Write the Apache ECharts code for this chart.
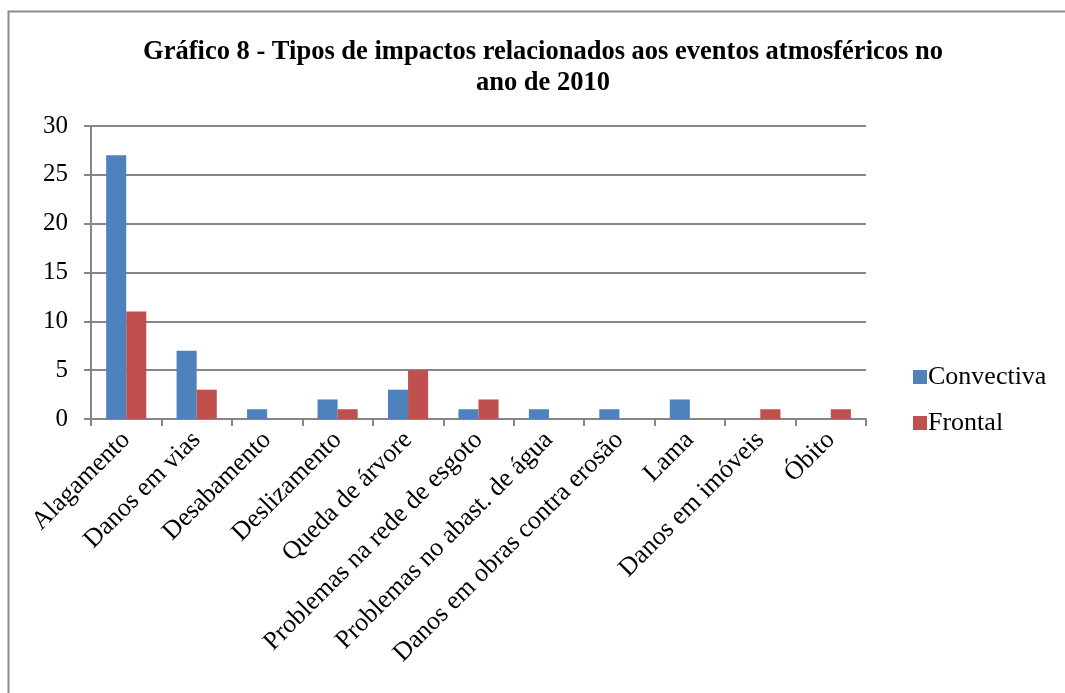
<!DOCTYPE html>
<html>
<head>
<meta charset="utf-8">
<script src="https://cdn.jsdelivr.net/npm/echarts@6/dist/echarts.min.js"></script>
<style>
  html, body { margin: 0; padding: 0; background: #fff; }
  #chart { width: 1065px; height: 693px; }
</style>
</head>
<body>
<div id="chart"></div>
<script>
// Impact types recorded in 2010, by atmospheric system
const categories = [
  'Alagamento', 'Danos em vias', 'Desabamento', 'Deslizamento', 'Queda de árvore',
  'Problemas na rede de esgoto', 'Problemas no abast. de água',
  'Danos em obras contra erosão', 'Lama', 'Danos em imóveis', 'Óbito'
];
const convectiva = [27, 7, 1, 2, 3, 1, 1, 1, 2, 0, 0];
const frontal = [11, 3, 0, 1, 5, 2, 0, 0, 0, 1, 1];
const yTicks = [0, 5, 10, 15, 20, 25, 30];

const serif = '"Liberation Serif", "Times New Roman", serif';
const axisGray = '#868686';

const chart = echarts.init(document.getElementById('chart'), null, { renderer: 'canvas' });
chart.setOption({
  backgroundColor: '#fff',
  animation: false,
  graphic: [{
    type: 'rect',
    shape: { x: 8.5, y: 11.5, width: 1100, height: 720 },
    style: { fill: 'none', stroke: '#8c8c8c', lineWidth: 2 },
    silent: true
  }],
  title: {
    text: 'Gráfico 8 - Tipos de impactos relacionados aos eventos atmosféricos no\nano de 2010',
    left: 538,
    top: 32,
    textAlign: 'center',
    textStyle: {
      fontFamily: serif, fontSize: 26.5, fontWeight: 'bold', color: '#000', lineHeight: 31
    }
  },
  legend: {
    orient: 'vertical',
    left: 908,
    top: 357,
    itemWidth: 14,
    itemHeight: 14,
    itemGap: 16,
    icon: 'rect',
    textStyle: { fontFamily: serif, fontSize: 26, color: '#000', padding: [0, 0, 0, -4], lineHeight: 30 },
    data: ['Convectiva', 'Frontal']
  },
  grid: { left: 91, right: 199, top: 126, bottom: 274, containLabel: false },
  xAxis: {
    type: 'category',
    data: categories,
    axisLine: { lineStyle: { color: axisGray, width: 2 } },
    axisTick: { show: true, alignWithLabel: false, length: 7, lineStyle: { color: axisGray, width: 2 } },
    axisLabel: {
      interval: 0, rotate: 45, margin: 17,
      fontFamily: serif, fontSize: 26, color: '#000'
    },
    splitLine: { show: false }
  },
  yAxis: {
    type: 'value',
    min: yTicks[0],
    max: yTicks[yTicks.length - 1],
    interval: 5,
    axisLine: { show: true, lineStyle: { color: axisGray, width: 2 } },
    axisTick: { show: true, length: 7, lineStyle: { color: axisGray, width: 2 } },
    axisLabel: { fontFamily: serif, fontSize: 25, color: '#000', margin: 23 },
    splitLine: { show: true, lineStyle: { color: axisGray, width: 2 } }
  },
  series: [
    {
      name: 'Convectiva', type: 'bar', data: convectiva,
      barGap: '0%', barCategoryGap: '43%',
      itemStyle: { color: '#4F81BD' }
    },
    {
      name: 'Frontal', type: 'bar', data: frontal,
      itemStyle: { color: '#C0504D' }
    }
  ]
});
</script>
</body>
</html>
